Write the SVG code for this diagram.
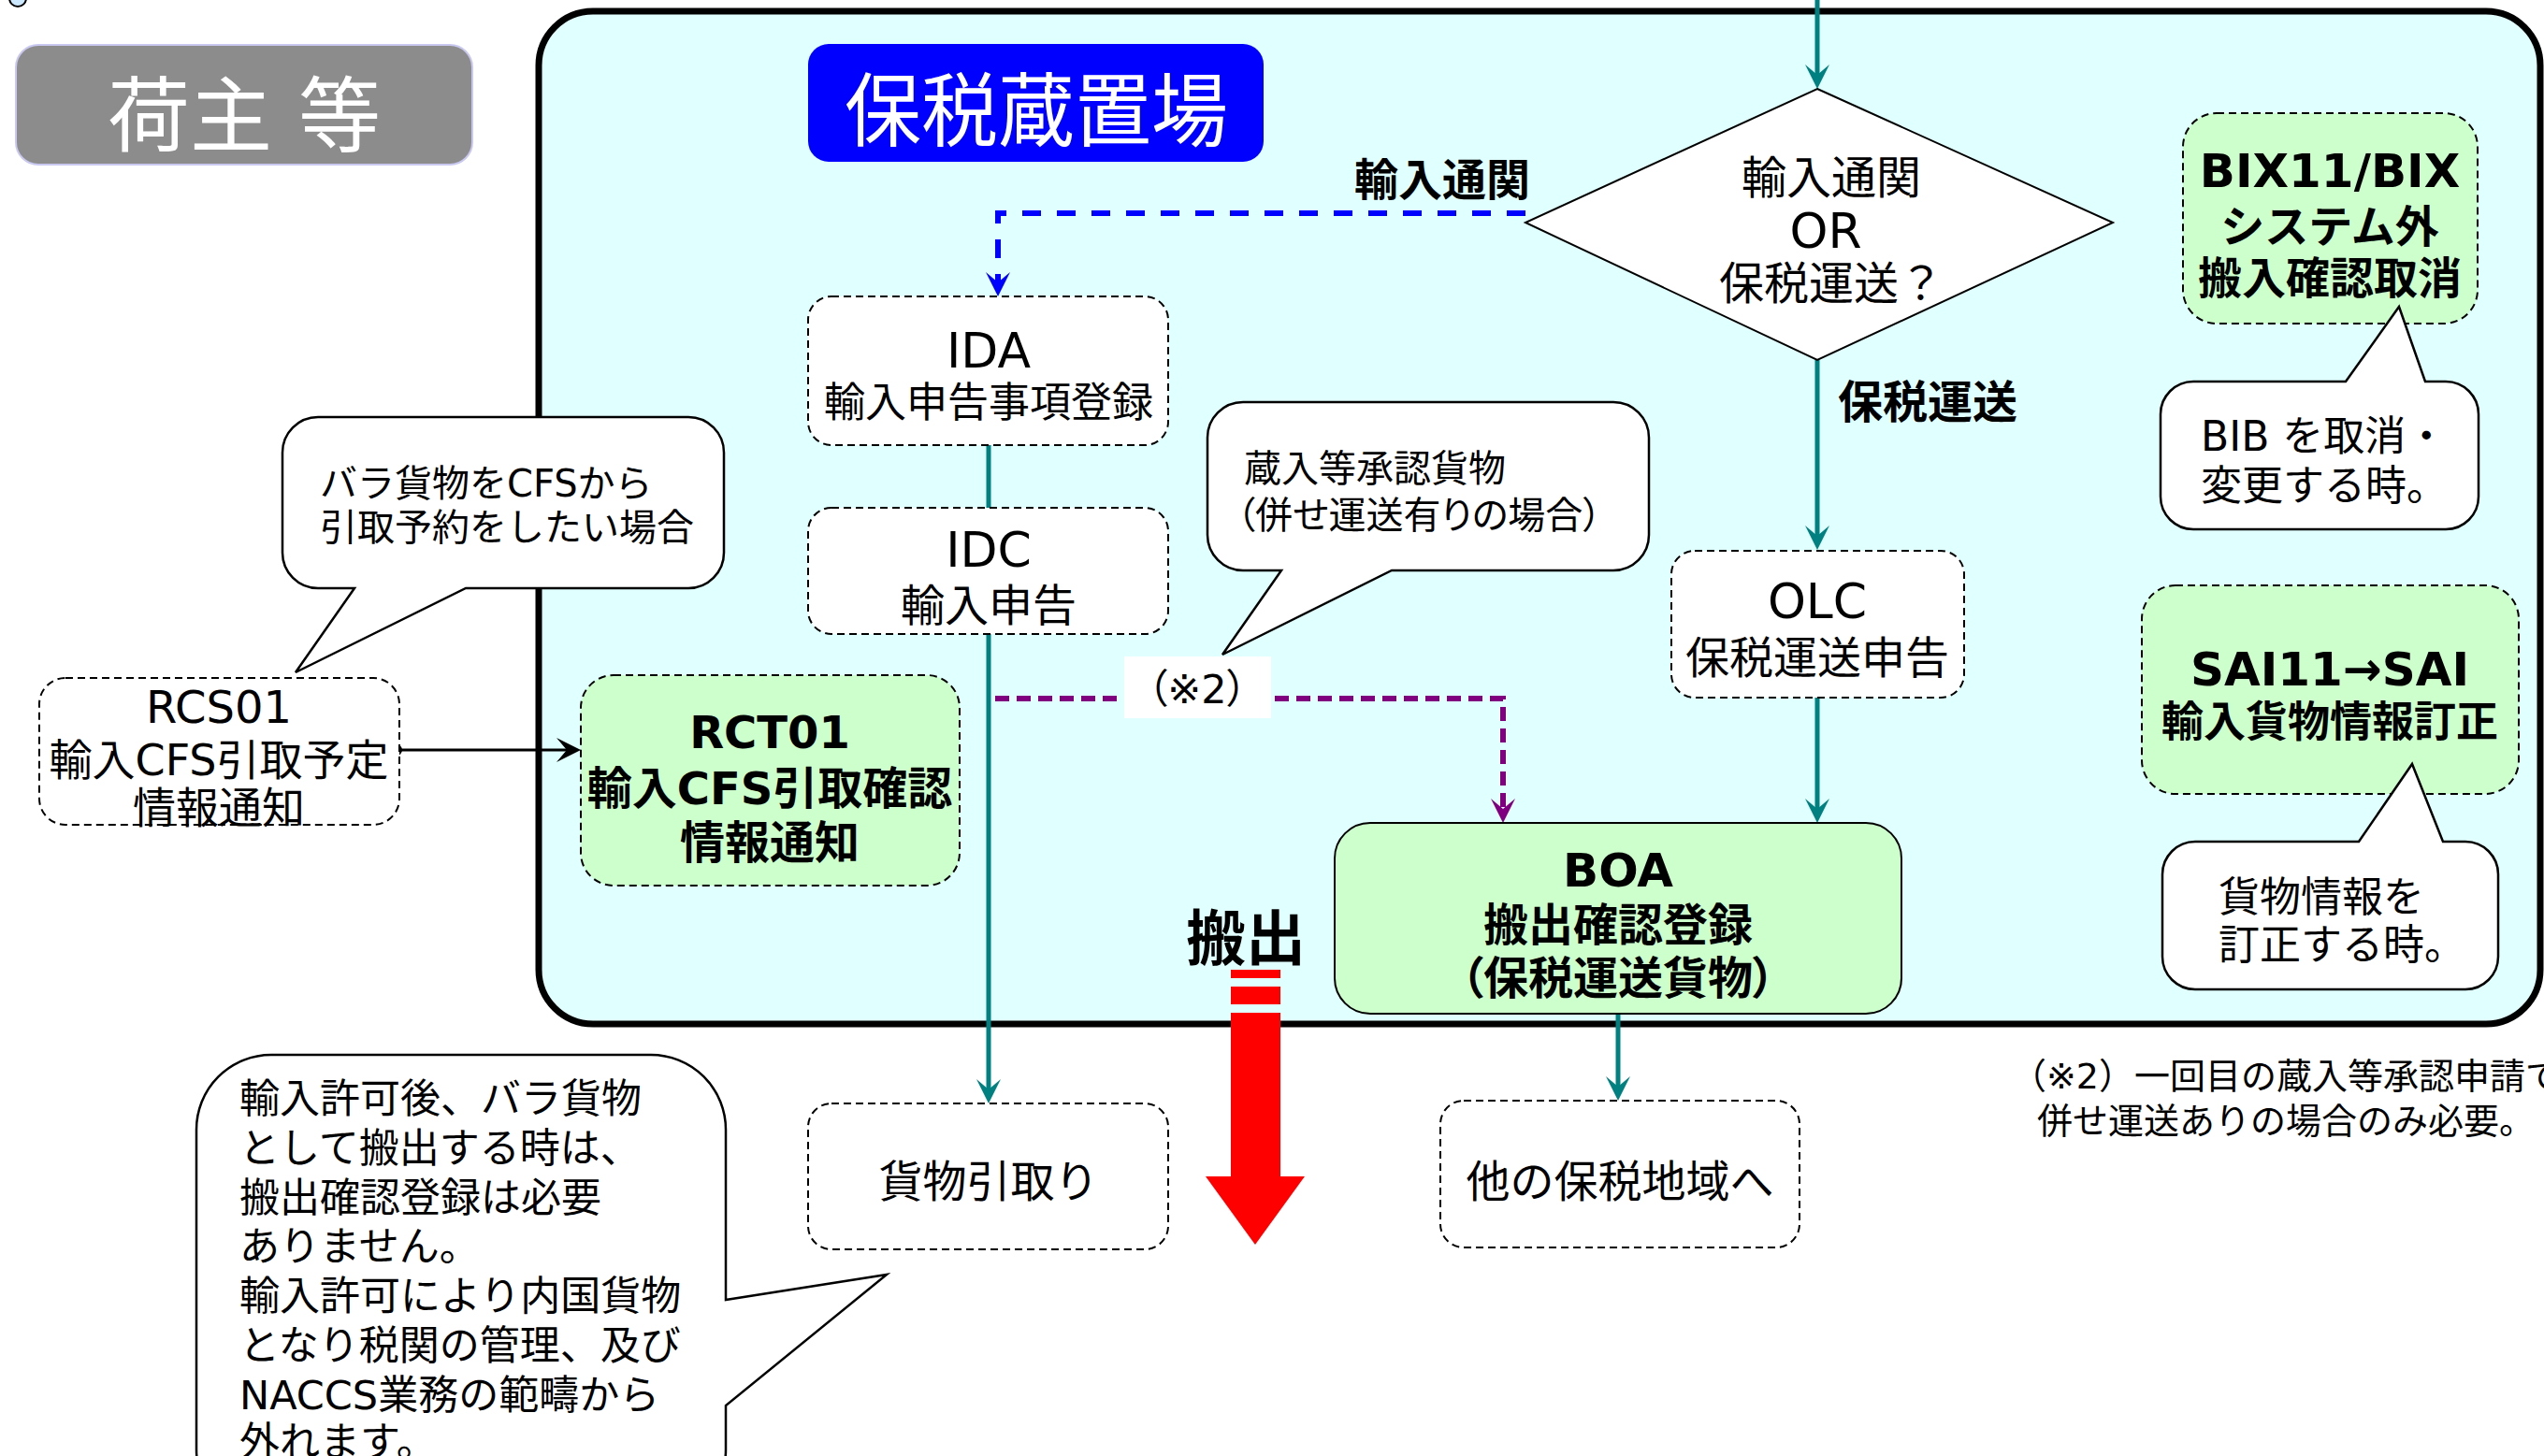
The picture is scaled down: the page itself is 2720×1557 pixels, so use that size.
<svg xmlns="http://www.w3.org/2000/svg" width="2720" height="1557" viewBox="0 0 2720 1557">
<defs>
<style>
.t{font-family:"DejaVu Sans","Noto Sans CJK JP",sans-serif;fill:#000}
.b{font-weight:bold}
.m{text-anchor:middle}
.p{font-feature-settings:"palt"}
.dash{stroke:#000;stroke-width:2;stroke-dasharray:8 5}
.w{fill:#fff}
.g{fill:#ccffcc}
.co{fill:#fff;stroke:#000;stroke-width:2.5}
.teal{stroke:#008080;stroke-width:5;fill:none}
</style>
<marker id="aT" markerUnits="userSpaceOnUse" viewBox="0 0 26 26" refX="16" refY="13" markerWidth="26" markerHeight="26" orient="auto"><path d="M0,0 L26,13 L0,26 L11,13 Z" fill="#008080"/></marker>
<marker id="aB" markerUnits="userSpaceOnUse" viewBox="0 0 26 26" refX="16" refY="13" markerWidth="26" markerHeight="26" orient="auto"><path d="M0,0 L26,13 L0,26 L11,13 Z" fill="#0000ff"/></marker>
<marker id="aP" markerUnits="userSpaceOnUse" viewBox="0 0 26 26" refX="16" refY="13" markerWidth="26" markerHeight="26" orient="auto"><path d="M0,0 L26,13 L0,26 L11,13 Z" fill="#800080"/></marker>
<marker id="aK" markerUnits="userSpaceOnUse" viewBox="0 0 26 26" refX="16" refY="13" markerWidth="26" markerHeight="26" orient="auto"><path d="M0,0 L26,13 L0,26 L11,13 Z" fill="#000"/></marker>
<marker id="dot" markerUnits="userSpaceOnUse" viewBox="0 0 14 14" refX="7" refY="7" markerWidth="14" markerHeight="14"><circle cx="7" cy="7" r="6" fill="#000"/></marker>
</defs>

<rect width="2720" height="1557" fill="#fff"/>
<ellipse cx="19" cy="-2" rx="9" ry="9" fill="#cce8ff" stroke="#000" stroke-width="2"/>

<g id="n-ninushi">
<rect x="17" y="48" width="488" height="128" rx="24" fill="#8c8c8c" stroke="#c8c8f0" stroke-width="2"/>
<text class="t m" x="261" y="155" font-size="88" style="fill:#fff">荷主 等</text>
</g>

<g id="n-area">
<rect x="576" y="12" width="2140" height="1083" rx="58" fill="#e0ffff" stroke="#000" stroke-width="7"/>
</g>

<g id="n-hozei">
<rect x="864" y="47" width="487" height="126" rx="22" fill="#0000ff"/>
<text class="t m" x="1108" y="150" font-size="86" textLength="410" lengthAdjust="spacingAndGlyphs" style="fill:#fff">保税蔵置場</text>
</g>

<g id="labels">
<text class="t b m" x="1542" y="209" font-size="47">輸入通関</text>
<text class="t b" x="1965" y="447" font-size="48">保税運送</text>
<text class="t b m" x="1332" y="1026" font-size="64">搬出</text>
</g>

<g id="connectors">
<path class="teal" d="M1943,0 V85" marker-end="url(#aT)"/>
<path class="teal" d="M1943,385 V578" marker-end="url(#aT)"/>
<path class="teal" d="M1943,746 V870" marker-end="url(#aT)"/>
<path class="teal" d="M1057,475 V543"/>
<path class="teal" d="M1057,678 V1170" marker-end="url(#aT)"/>
<path class="teal" d="M1730,1084 V1167" marker-end="url(#aT)"/>
<path d="M1631,228 H1067 V307" fill="none" stroke="#0000ff" stroke-width="6" stroke-dasharray="20 17" marker-end="url(#aB)"/>
<path d="M1064,747 H1607 V870" fill="none" stroke="#800080" stroke-width="6" stroke-dasharray="15 8" marker-end="url(#aP)"/>
<path d="M424,802 H611" fill="none" stroke="#000" stroke-width="3" marker-start="url(#dot)" marker-end="url(#aK)"/>
</g>

<g id="n-decision">
<polygon points="1943,95 2259,238 1943,385 1631,238" fill="#fff" stroke="#000" stroke-width="2"/>
<text class="t m" x="1958" y="207" font-size="48">輸入通関</text>
<text class="t m" x="1952" y="265" font-size="52">OR</text>
<text class="t m" x="1958" y="320" font-size="48">保税運送？</text>
</g>

<g id="n-ida">
<rect class="dash w" x="864" y="317" width="385" height="159" rx="25"/>
<text class="t m" x="1057" y="393" font-size="52">IDA</text>
<text class="t m" x="1057" y="446" font-size="44">輸入申告事項登録</text>
</g>

<g id="n-idc">
<rect class="dash w" x="864" y="543" width="385" height="135" rx="25"/>
<text class="t m" x="1057" y="606" font-size="52">IDC</text>
<text class="t m" x="1057" y="664" font-size="47">輸入申告</text>
</g>

<g id="n-rcs01">
<rect class="dash w" x="42" y="725" width="385" height="157" rx="28"/>
<text class="t m" x="234" y="773" font-size="48">RCS01</text>
<text class="t m" x="234" y="829" font-size="46">輸入CFS引取予定</text>
<text class="t m" x="234" y="880" font-size="46">情報通知</text>
</g>

<g id="n-rct01">
<rect class="dash g" x="621" y="722" width="405" height="225" rx="35"/>
<text class="t b m" x="823" y="800" font-size="48">RCT01</text>
<text class="t b m" x="823" y="860" font-size="48">輸入CFS引取確認</text>
<text class="t b m" x="823" y="918" font-size="48">情報通知</text>
</g>

<g id="n-olc">
<rect class="dash w" x="1787" y="589" width="313" height="157" rx="25"/>
<text class="t m" x="1943" y="661" font-size="52">OLC</text>
<text class="t m" x="1943" y="720" font-size="47">保税運送申告</text>
</g>

<g id="n-boa">
<rect class="g" x="1427" y="880" width="606" height="204" rx="38" stroke="#000" stroke-width="2"/>
<text class="t b m" x="1730" y="948" font-size="50">BOA</text>
<text class="t b m" x="1730" y="1006" font-size="48">搬出確認登録</text>
<text class="t b m p" x="1730" y="1063" font-size="48">（保税運送貨物）</text>
</g>

<g id="n-bix">
<rect class="dash g" x="2334" y="121" width="315" height="225" rx="36"/>
<text class="t b m" x="2491" y="200" font-size="50">BIX11/BIX</text>
<text class="t b m" x="2491" y="259" font-size="47">システム外</text>
<text class="t b m" x="2491" y="314" font-size="47">搬入確認取消</text>
</g>

<g id="n-sai">
<rect class="dash g" x="2290" y="626" width="403" height="223" rx="36"/>
<text class="t b m" x="2491" y="733" font-size="50">SAI11→SAI</text>
<text class="t b m" x="2491" y="788" font-size="45">輸入貨物情報訂正</text>
</g>

<g id="n-hikitori">
<rect class="dash w" x="864" y="1180" width="385" height="156" rx="25"/>
<text class="t m" x="1057" y="1280" font-size="47">貨物引取り</text>
</g>

<g id="n-tano">
<rect class="dash w" x="1540" y="1177" width="384" height="157" rx="25"/>
<text class="t m" x="1732" y="1280" font-size="47">他の保税地域へ</text>
</g>

<g id="n-note2">
<rect x="1202" y="702" width="157" height="66" fill="#fff"/>
<text class="t m p" x="1280" y="752" font-size="43">（※2）</text>
</g>

<g id="c-cfs">
<path class="co" d="M340,446 H736 A38,38 0 0 1 774,484 V591 A38,38 0 0 1 736,629 H498 L316,719 L379,629 H340 A38,38 0 0 1 302,591 V484 A38,38 0 0 1 340,446 Z"/>
<text class="t" x="342" y="531" font-size="40">バラ貨物をCFSから</text>
<text class="t" x="342" y="578" font-size="40">引取予約をしたい場合</text>
</g>

<g id="c-kura">
<path class="co" d="M1329,430 H1725 A38,38 0 0 1 1763,468 V572 A38,38 0 0 1 1725,610 H1488 L1307,700 L1370,610 H1329 A38,38 0 0 1 1291,572 V468 A38,38 0 0 1 1329,430 Z"/>
<text class="t" x="1330" y="515" font-size="40">蔵入等承認貨物</text>
<text class="t p" x="1322" y="565" font-size="40">（併せ運送有りの場合）</text>
</g>

<g id="c-bib">
<path class="co" d="M2345,408 H2508 L2565,328 L2593,408 H2615 A35,35 0 0 1 2650,443 V531 A35,35 0 0 1 2615,566 H2345 A35,35 0 0 1 2310,531 V443 A35,35 0 0 1 2345,408 Z"/>
<text class="t" x="2353" y="482" font-size="44">BIB を取消・</text>
<text class="t" x="2353" y="535" font-size="44">変更する時。</text>
</g>

<g id="c-sai">
<path class="co" d="M2347,900 H2522 L2579,817 L2612,900 H2636 A35,35 0 0 1 2671,935 V1023 A35,35 0 0 1 2636,1058 H2347 A35,35 0 0 1 2312,1023 V935 A35,35 0 0 1 2347,900 Z"/>
<text class="t" x="2372" y="975" font-size="44">貨物情報を</text>
<text class="t" x="2372" y="1026" font-size="44">訂正する時。</text>
</g>

<g id="c-kyoka">
<path class="co" d="M290,1128 H696 A80,80 0 0 1 776,1208 V1390 L948,1363 L776,1503 V1550 A80,80 0 0 1 696,1630 H290 A80,80 0 0 1 210,1550 V1208 A80,80 0 0 1 290,1128 Z"/>
<text class="t" font-size="43">
<tspan x="256" y="1190">輸入許可後、バラ貨物</tspan>
<tspan x="256" y="1243">として搬出する時は、</tspan>
<tspan x="256" y="1296">搬出確認登録は必要</tspan>
<tspan x="256" y="1348">ありません。</tspan>
<tspan x="256" y="1401">輸入許可により内国貨物</tspan>
<tspan x="256" y="1454">となり税関の管理、及び</tspan>
<tspan x="256" y="1507">NACCS業務の範疇から</tspan>
<tspan x="256" y="1557">外れます。</tspan>
</text>
</g>

<g id="footnote">
<text class="t m" x="2444" y="1164" font-size="38">（※2）一回目の蔵入等承認申請で</text>
<text class="t m" x="2444" y="1212" font-size="38">併せ運送ありの場合のみ必要。</text>
</g>

<g id="n-hanshutsu-arrow" fill="#ff0000">
<rect x="1316" y="1037" width="53" height="9"/>
<rect x="1316" y="1055" width="53" height="19"/>
<rect x="1316" y="1083" width="53" height="176"/>
<polygon points="1289,1258 1395,1258 1342,1331"/>
</g>
</svg>
